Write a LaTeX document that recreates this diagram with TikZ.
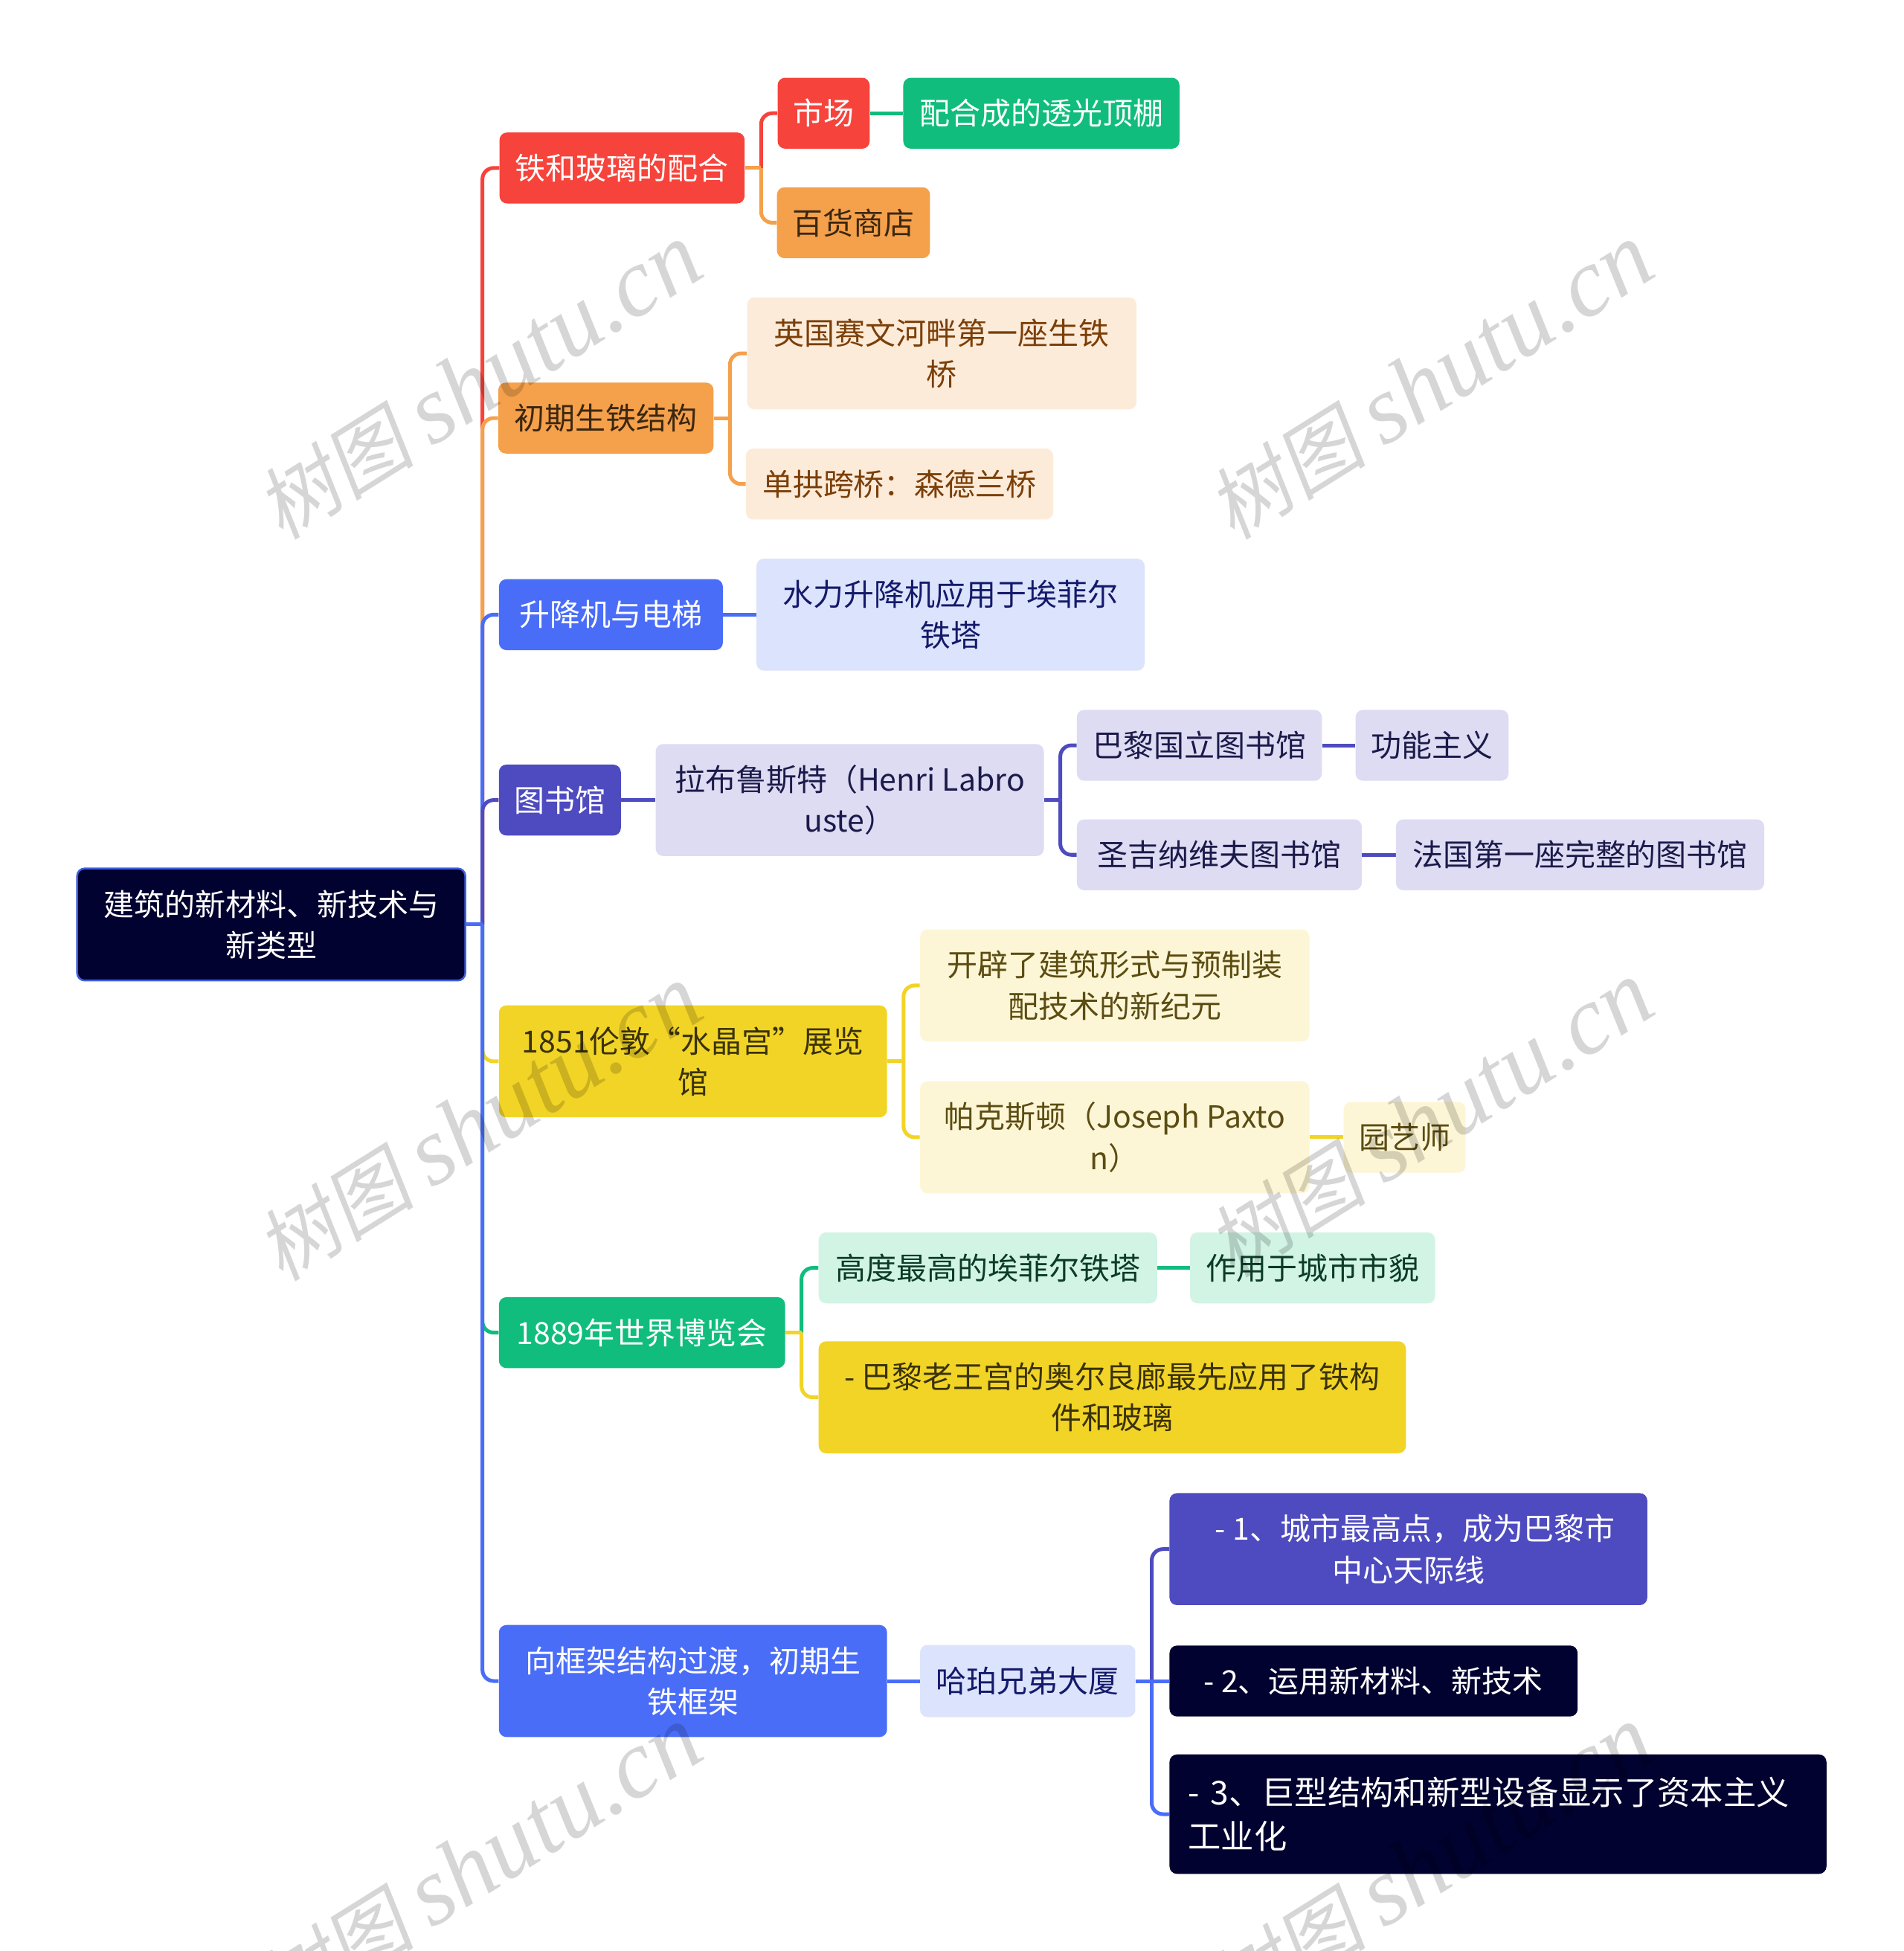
\documentclass[tikz,border=0pt]{standalone}
\usepackage{fontspec}
\setmainfont{Noto Sans CJK SC}
\newfontfamily\wmcjk[FakeSlant=0.18]{Noto Sans CJK SC}
\newfontfamily\wmlat{Liberation Serif}
\usetikzlibrary{calc}
\pgfdeclarelayer{bg}
\pgfsetlayers{bg,main}
\definecolor{cNavy}{HTML}{020230}
\definecolor{cRootBorder}{HTML}{3F5EE0}
\definecolor{cRed}{HTML}{F6433B}
\definecolor{cGreen}{HTML}{10BD7D}
\definecolor{cOrange}{HTML}{F5A04B}
\definecolor{cPeach}{HTML}{FDEBD9}
\definecolor{cBlue}{HTML}{4A6DF8}
\definecolor{cLBlue}{HTML}{DCE3FC}
\definecolor{cPurple}{HTML}{4E4BC0}
\definecolor{cLav}{HTML}{DEDCF3}
\definecolor{cYellow}{HTML}{F2D426}
\definecolor{cCream}{HTML}{FDF6D6}
\definecolor{cMint}{HTML}{D1F4E5}
\definecolor{tBrownDark}{HTML}{3B2710}
\definecolor{tBrown}{HTML}{7B3F08}
\definecolor{tNavy}{HTML}{141A6A}
\definecolor{tLav}{HTML}{1B1A4A}
\definecolor{tOlive}{HTML}{5B4C12}
\definecolor{tYel}{HTML}{3A3208}
\definecolor{tMint}{HTML}{0C3B27}
\newcommand\elbow[3]{%
  \draw[link,#1] (#2.east) -- ++(13,0);
  \draw[link,#1,rounded corners=9pt] ($(#2.east)+(13,0)$) |- (#3.west);}
\newcommand\straight[3]{\draw[link,#1] (#2.east) -- (#3.west);}
\begin{document}
\begin{tikzpicture}[x=1pt,y=-1pt,
  box/.style={rectangle, rounded corners=6pt, inner sep=0pt, align=center,
    font=\fontsize{24.5}{33}\selectfont},
  link/.style={line width=3pt},
  wm/.style={text=black, text opacity=0.16, inner sep=0pt},
]
\begin{pgfonlayer}{bg}
\fill[white] (0,0) rectangle (1530,1568);
\end{pgfonlayer}
\useasboundingbox (0,0) rectangle (1530,1568);

% root
\node[box, fill=cNavy, draw=cRootBorder, line width=1.5pt, text=white, minimum width=312pt, minimum height=90pt] (root) at (218,743) {建筑的新材料、新技术与\\新类型};

% branch 1
\node[box, fill=cRed, text=white, minimum width=197pt, minimum height=57pt] (n1) at (500,135) {铁和玻璃的配合};
\node[box, fill=cRed, text=white, minimum width=74pt, minimum height=57pt] (n11) at (662,91) {市场};
\node[box, fill=cGreen, text=white, minimum width=222pt, minimum height=57pt] (n111) at (837,91) {配合成的透光顶棚};
\node[box, fill=cOrange, text=tBrownDark, minimum width=123pt, minimum height=57pt] (n12) at (686,179) {百货商店};

% branch 2
\node[box, fill=cOrange, text=tBrownDark, minimum width=173pt, minimum height=57pt] (n2) at (487,336) {初期生铁结构};
\node[box, fill=cPeach, text=tBrown, minimum width=313pt, minimum height=90pt] (n21) at (757,284) {英国赛文河畔第一座生铁\\桥};
\node[box, fill=cPeach, text=tBrown, minimum width=247pt, minimum height=57pt] (n22) at (723,389) {单拱跨桥：森德兰桥};

% branch 3
\node[box, fill=cBlue, text=white, minimum width=180pt, minimum height=57pt] (n3) at (491,494) {升降机与电梯};
\node[box, fill=cLBlue, text=tNavy, minimum width=312pt, minimum height=90pt] (n31) at (764,494) {水力升降机应用于埃菲尔\\铁塔};

% branch 4
\node[box, fill=cPurple, text=white, minimum width=98pt, minimum height=57pt] (n4) at (450,643) {图书馆};
\node[box, fill=cLav, text=tLav, minimum width=312pt, minimum height=90pt] (n41) at (683,643) {拉布鲁斯特（Henri Labro\\uste）};
\node[box, fill=cLav, text=tLav, minimum width=197pt, minimum height=57pt] (n411) at (964,599) {巴黎国立图书馆};
\node[box, fill=cLav, text=tLav, minimum width=123pt, minimum height=57pt] (n4111) at (1151,599) {功能主义};
\node[box, fill=cLav, text=tLav, minimum width=229pt, minimum height=57pt] (n412) at (980,687) {圣吉纳维夫图书馆};
\node[box, fill=cLav, text=tLav, minimum width=296pt, minimum height=57pt] (n4121) at (1270,687) {法国第一座完整的图书馆};

% branch 5
\node[box, fill=cYellow, text=tYel, minimum width=312pt, minimum height=90pt] (n5) at (557,853) {1851伦敦“水晶宫”展览\\馆};
\node[box, fill=cCream, text=tOlive, minimum width=313pt, minimum height=90pt] (n51) at (896,792) {开辟了建筑形式与预制装\\配技术的新纪元};
\node[box, fill=cCream, text=tOlive, minimum width=313pt, minimum height=90pt] (n52) at (896,914) {帕克斯顿（Joseph Paxto\\n）};
\node[box, fill=cCream, text=tOlive, minimum width=98pt, minimum height=57pt] (n521) at (1129,914) {园艺师};

% branch 6
\node[box, fill=cGreen, text=white, minimum width=230pt, minimum height=57pt] (n6) at (516,1071) {1889年世界博览会};
\node[box, fill=cMint, text=tMint, minimum width=272pt, minimum height=57pt] (n61) at (794,1019) {高度最高的埃菲尔铁塔};
\node[box, fill=cMint, text=tMint, minimum width=197pt, minimum height=57pt] (n611) at (1055,1019) {作用于城市市貌};
\node[box, fill=cYellow, text=tYel, minimum width=472pt, minimum height=90pt] (n62) at (894,1123) {- 巴黎老王宫的奥尔良廊最先应用了铁构\\件和玻璃};

% branch 7
\node[box, fill=cBlue, text=white, minimum width=312pt, minimum height=90pt] (n7) at (557,1351) {向框架结构过渡，初期生\\铁框架};
\node[box, fill=cLBlue, text=tNavy, minimum width=173pt, minimum height=58pt] (n71) at (826,1351) {哈珀兄弟大厦};
\node[box, fill=cPurple, text=white, minimum width=384pt, minimum height=90pt] (n711) at (1132,1245) {\ \ - 1、城市最高点，成为巴黎市\\中心天际线};
\node[box, fill=cNavy, text=white, minimum width=328pt, minimum height=57pt] (n712) at (1104,1351) {- 2、运用新材料、新技术};
\node[box, fill=cNavy, text=white, minimum width=528pt, minimum height=96pt, text width=498pt, align=left, font=\fontsize{26.5}{35}\selectfont] (n713) at (1204,1458) {- 3、巨型结构和新型设备显示了资本主义\\工业化};

% connectors
\begin{pgfonlayer}{bg}
\elbow{cRed}{root}{n1}
\elbow{cOrange}{root}{n2}
\elbow{cBlue}{root}{n3}
\elbow{cPurple}{root}{n4}
\elbow{cYellow}{root}{n5}
\elbow{cGreen}{root}{n6}
\elbow{cBlue}{root}{n7}
\elbow{cRed}{n1}{n11}
\elbow{cOrange}{n1}{n12}
\straight{cGreen}{n11}{n111}
\elbow{cOrange}{n2}{n21}
\elbow{cOrange}{n2}{n22}
\straight{cBlue}{n3}{n31}
\straight{cPurple}{n4}{n41}
\elbow{cPurple}{n41}{n411}
\elbow{cPurple}{n41}{n412}
\straight{cPurple}{n411}{n4111}
\straight{cPurple}{n412}{n4121}
\elbow{cYellow}{n5}{n51}
\elbow{cYellow}{n5}{n52}
\straight{cYellow}{n52}{n521}
\elbow{cGreen}{n6}{n61}
\elbow{cYellow}{n6}{n62}
\straight{cGreen}{n61}{n611}
\straight{cBlue}{n7}{n71}
\elbow{cPurple}{n71}{n711}
\straight{cBlue}{n71}{n712}
\elbow{cBlue}{n71}{n713}
\end{pgfonlayer}

% watermarks
\foreach \wx/\wy/\wn in {385/307/a,1150/307/b,385/903/c,1150/900/d,385/1498/e,1150/1498/f}
  \node[wm, rotate=32] (wm\wn) at (\wx,\wy) {{\wmcjk\fontsize{64}{64}\selectfont 树图}\hspace{14pt}{\wmlat\itshape\fontsize{78}{78}\selectfont shutu.cn}};
\end{tikzpicture}
\end{document}
